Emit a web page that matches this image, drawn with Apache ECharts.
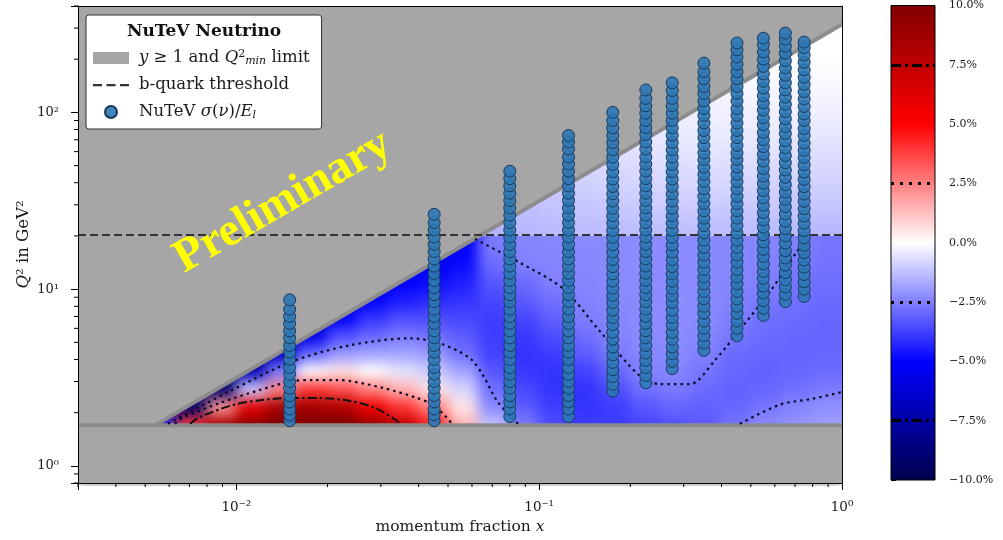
<!DOCTYPE html>
<html><head><meta charset="utf-8">
<script src="https://cdn.jsdelivr.net/npm/echarts@6/dist/echarts.min.js"></script>
<style>
html,body{margin:0;padding:0;background:#fff;}
#stage{position:relative;width:1003px;height:540px;overflow:hidden;background:#fff;}
.clip{position:absolute;overflow:hidden;}
.blurred{position:absolute;width:1003px;height:540px;filter:blur(7px);}
#heatClipHigh{left:78px;top:6px;width:764px;height:230px;}
#heatHigh{left:-78px;top:-6px;}
#heatClipLow{left:78px;top:236px;width:764px;height:250px;}
#heatLow{left:-78px;top:-236px;}
#main{position:absolute;left:0;top:0;width:1003px;height:540px;}
</style></head><body>
<div id="stage">
  <div id="heatClipHigh" class="clip"><div id="heatHigh" class="blurred"></div></div>
  <div id="heatClipLow" class="clip"><div id="heatLow" class="blurred"></div></div>
  <div id="main"></div>
</div>
<script>
// ---------------- data ----------------
const X_AXIS_MIN = 0.003, X_AXIS_MAX = 1;
const Q2_AXIS_MIN = 0.8, Q2_AXIS_MAX = 400;
const CBAR_MIN = -10, CBAR_MAX = 10, CBAR_STEP = 2.5;

// grey "y >= 1 and Q2_min" excluded region (polygon) and its boundary lines
const limitRegionX  = [0.003, 1, 1, 0.0054, 1, 1, 0.003];
const limitRegionQ2 = [0.8, 0.8, 1.7, 1.7, 315, 400, 400];
const q2MinLineX  = [0.003, 1];
const q2MinLineQ2 = [1.7, 1.7];
const yLimitLineX  = [0.0054, 1];
const yLimitLineQ2 = [1.7, 315];

// b-quark threshold
const bQuarkX  = [0.003, 1];
const bQuarkQ2 = [20.25, 20.25];

// NuTeV data points: x bins and Q2 values per bin
const nutevX = [0.015, 0.045, 0.08, 0.125, 0.175, 0.225, 0.275, 0.35, 0.45, 0.55, 0.65, 0.75];
const nutevQ2 = [
  [1.8,1.95,2.1,2.3,2.5,2.75,3.0,3.3,3.6,4.0,4.4,4.8,5.3,5.8,6.4,7.0,7.7,8.7],
  [1.8,1.95,2.1,2.3,2.5,2.75,3.0,3.3,3.6,4.0,4.4,4.8,5.3,5.8,6.4,7.0,7.7,8.5,9.3,10.2,11.2,12.3,13.5,14.8,16.3,17.9,19.7,21.6,23.8,26.5],
  [1.9,2.1,2.3,2.5,2.75,3.0,3.3,3.6,4.0,4.4,4.8,5.3,5.8,6.4,7.0,7.7,8.5,9.3,10.2,11.2,12.3,13.5,14.8,16.3,17.9,19.7,21.6,23.8,26.2,28.8,31.7,34.9,38.4,42.2,46.5],
  [1.9,2.1,2.3,2.5,2.75,3.0,3.3,3.6,4.0,4.4,4.8,5.3,5.8,6.4,7.0,7.7,8.5,9.3,10.2,11.2,12.3,13.5,14.8,16.3,17.9,19.7,21.6,23.8,26.2,28.8,31.7,34.9,38.4,42.2,46.5,51,56,62,68,74],
  [2.65,2.9,3.2,3.5,3.85,4.25,4.7,5.2,5.7,6.3,6.9,7.6,8.4,9.2,10.1,11.1,12.2,13.4,14.7,16.2,17.8,19.6,21.5,23.7,26.0,28.6,31.5,34.6,38.1,41.9,46.1,50.7,55.8,61.4,67.5,74.3,81.7,89.9,100],
  [2.95,3.25,3.6,3.95,4.35,4.8,5.3,5.8,6.4,7.0,7.7,8.5,9.3,10.2,11.2,12.3,13.5,14.8,16.3,17.9,19.7,21.6,23.8,26.2,28.8,31.7,34.9,38.4,42.2,46.5,51,56,62,68,75,82,90,99,109,120,134],
  [3.55,3.9,4.3,4.7,5.2,5.7,6.3,6.9,7.6,8.4,9.2,10.1,11.1,12.2,13.4,14.7,16.2,17.8,19.6,21.5,23.7,26.0,28.6,31.5,34.6,38.1,41.9,46.1,50.7,55.8,61.4,67.5,74.3,81.7,89.9,99,109,120,133,147],
  [4.5,4.95,5.45,6.0,6.6,7.3,8.0,8.8,9.7,10.7,11.7,12.9,14.2,15.6,17.2,18.9,20.8,22.9,25.2,27.7,30.5,33.5,36.9,40.6,44.6,49,54,59,65,72,79,87,96,105,116,128,140,155,170,190],
  [5.45,6.0,6.6,7.3,8.0,8.8,9.7,10.7,11.7,12.9,14.2,15.6,17.2,18.9,20.8,22.9,25.2,27.7,30.5,33.5,36.9,40.6,44.6,49,54,59,65,72,79,87,96,105,116,128,140,155,170,187,206,226,247],
  [7.1,7.8,8.6,9.5,10.4,11.5,12.6,13.9,15.3,16.8,18.5,20.3,22.4,24.6,27.1,29.8,32.8,36.1,39.7,43.6,48,53,58,64,70,77,85,93,103,113,124,137,150,165,182,200,220,242,263],
  [8.5,9.35,10.3,11.3,12.4,13.7,15.0,16.5,18.2,20.0,22.0,24.2,26.6,29.3,32.2,35.4,39.0,42.9,47.2,51.9,57,63,69,76,83,92,101,111,122,134,147,162,178,196,216,237,260,281],
  [9.1,10.0,11.0,12.1,13.3,14.6,16.1,17.7,19.5,21.4,23.6,25.9,28.5,31.4,34.5,38.0,41.8,45.9,50.5,55.6,61,67,74,81,90,98,108,119,131,144,158,174,192,211,232,250]
];

// relative difference field (%) on a log grid: column centres (log10 x), row centres (log10 Q2)
const heatLogX  = [-2.25,-2.15,-2.05,-1.95,-1.85,-1.75,-1.65,-1.55,-1.45,-1.35,-1.25,-1.15,-1.05,-0.95,-0.85,-0.75,-0.65,-0.55,-0.45,-0.35,-0.25,-0.15,-0.05];
const heatLogQ2 = [0.25,0.35,0.45,0.55,0.65,0.75,0.85,0.95,1.05,1.15,1.25,1.35,1.45,1.55,1.65,1.75,1.85,1.95,2.05,2.15,2.25,2.35,2.45,2.55];
const THRESHOLD_ROW = 11;   // first row above the b-quark threshold
// one list per column, from the lowest Q2 row upward
const heatColumns = [
  [-4, -9],
  [4, -9, -10],
  [8.5, 2, -9, -10],
  [9.5, 6, -1, -7, -9],
  [10, 8.5, 2.5, -2.5, -6.5, -8],
  [10, 8.5, 4, 0, -3, -5.5, -7],
  [10, 8, 3.5, 0.5, -2, -3.5, -5, -6],
  [9, 5.5, 2.5, 0, -1.8, -3, -4, -5, -6],
  [7.5, 4, 1.5, -0.5, -1.8, -2.6, -3.5, -4.5, -5, -5.5],
  [4.5, 2.5, 0.5, -1, -2, -2.8, -3.5, -4.2, -4.8, -5.3, -5.8],
  [1.5, 0.5, -0.8, -1.8, -2.8, -3.2, -3.6, -4, -4.4, -4.8, -5.2, -1.6],
  [-1.2, -2.3, -2.8, -3.3, -3.7, -3.8, -3.8, -3.6, -3.3, -2.9, -2.6, -1.5, -1.4],
  [-2.6, -3.2, -3.6, -3.9, -4, -3.9, -3.6, -3.2, -2.9, -2.5, -2.4, -1.4, -1.3, -1.2],
  [-3.5, -3.8, -4, -4, -3.8, -3.5, -3.1, -2.8, -2.5, -2.4, -2.35, -1.35, -1.2, -1.05, -0.95],
  [-3.8, -4, -4, -3.7, -3.2, -2.8, -2.55, -2.45, -2.4, -2.35, -2.3, -1.3, -1.15, -1.0, -0.85, -0.75],
  [-3.8, -3.8, -3.5, -3.0, -2.6, -2.45, -2.4, -2.35, -2.3, -2.3, -2.3, -1.3, -1.1, -0.95, -0.8, -0.65, -0.55],
  [-3.6, -3.3, -2.8, -2.45, -2.35, -2.3, -2.25, -2.25, -2.25, -2.25, -2.25, -1.25, -1.1, -0.9, -0.75, -0.6, -0.5, -0.4],
  [-3.4, -3.0, -2.6, -2.4, -2.3, -2.25, -2.25, -2.25, -2.25, -2.25, -2.25, -1.25, -1.05, -0.9, -0.75, -0.6, -0.45, -0.35, -0.3],
  [-3.2, -3.1, -2.9, -2.7, -2.5, -2.35, -2.3, -2.3, -2.3, -2.3, -2.3, -1.25, -1.05, -0.9, -0.7, -0.55, -0.45, -0.35, -0.25, -0.2],
  [-2.7, -3.0, -3.1, -3.0, -2.9, -2.7, -2.55, -2.45, -2.4, -2.35, -2.35, -1.3, -1.1, -0.9, -0.75, -0.6, -0.45, -0.35, -0.25, -0.15, -0.1],
  [-2.3, -2.7, -3.0, -3.1, -3.0, -2.9, -2.8, -2.65, -2.5, -2.45, -2.4, -1.3, -1.1, -0.95, -0.8, -0.6, -0.45, -0.35, -0.25, -0.15, -0.1, -0.05],
  [-2.1, -2.4, -2.8, -3.0, -3.0, -3.0, -2.9, -2.8, -2.7, -2.6, -2.5, -1.35, -1.15, -1.0, -0.8, -0.65, -0.5, -0.35, -0.25, -0.15, -0.1, 0, 0],
  [-1.9, -2.2, -2.6, -2.9, -3.0, -3.0, -3.0, -2.9, -2.85, -2.75, -2.7, -1.4, -1.2, -1.0, -0.85, -0.7, -0.55, -0.4, -0.25, -0.15, -0.05, 0, 0, 0]
];

// contour lines
const contourP75X  = [0.00703,0.00758,0.00975,0.01215,0.01537,0.0189,0.0237,0.0287,0.0339,0.0347];
const contourP75Q2 = [1.73,1.89,2.21,2.36,2.42,2.42,2.33,2.13,1.80,1.73];
const contourP25X  = [0.00627,0.00666,0.00883,0.01197,0.01537,0.0179,0.0215,0.0305,0.0395,0.0446,0.0496,0.0515];
const contourP25Q2 = [1.73,1.87,2.27,2.69,3.02,3.06,3.06,2.76,2.42,2.21,1.87,1.73];
const contourM25aX  = [0.00594,0.00953,0.01537,0.0237,0.0374,0.0470,0.0591,0.0652,0.0726,0.0813,0.0851];
const contourM25aQ2 = [1.73,2.65,3.91,4.81,5.27,4.94,4.06,3.26,2.33,1.87,1.73];
const contourM25bX  = [0.0614,0.0864,0.1199,0.1588,0.2153,0.2506,0.3148,0.3806,0.4782,0.5784,0.7100,0.772];
const contourM25bQ2 = [19.2,14.1,10.06,5.77,3.22,2.90,2.90,3.96,6.40,9.68,16.3,20.0];
const contourM25cX  = [0.460,0.624,0.802,1.0];
const contourM25cQ2 = [1.73,2.22,2.40,2.62];

const xMinorTicks = [0.003,0.004,0.005,0.006,0.007,0.008,0.009,0.02,0.03,0.04,0.05,0.06,0.07,0.08,0.09,0.2,0.3,0.4,0.5,0.6,0.7,0.8,0.9];
const yMinorTicks = [0.8,0.9,2,3,4,5,6,7,8,9,20,30,40,50,60,70,80,90,200,300,400];
const cbarDashDotLevels = [7.5, -7.5];
const cbarDottedLevels = [2.5, -2.5];

const seismicColors = ['#00004c', '#0000ff', '#ffffff', '#ff0000', '#800000'];
// ------------------------------------------------------------

const FONT = "'DejaVu Serif','Liberation Serif',serif";
const GRID = {left: 78, right: 161, top: 6, bottom: 54};
const TXT = '#1a1a1a';

function zipXY(xs, ys){ return xs.map((x, i) => [x, ys[i]]); }
const supMap = {'-':'\u207b','0':'\u2070','1':'\u00b9','2':'\u00b2','3':'\u00b3'};
function powLabel(v){
  const e = Math.round(Math.log10(v));
  if (Math.abs(v / Math.pow(10, e) - 1) > 1e-6) return '';
  return '10' + String(e).split('').map(c => supMap[c]).join('');
}

// ---------------- underlying colour field (two layers split at the b-quark threshold) ----------------
const heatData = [];
heatColumns.forEach((col, k) => col.forEach((v, j) => {
  heatData.push([Math.pow(10, heatLogX[k]), Math.pow(10, heatLogQ2[j]), v, k, j]);
}));
function makeHeatLayer(domId, jMin, jMax){
  const chart = echarts.init(document.getElementById(domId), null, {renderer: 'canvas'});
  chart.setOption({
    animation: false,
    grid: Object.assign({show: true, backgroundColor: '#a6a6a6', borderWidth: 0}, GRID),
    xAxis: {type: 'log', logBase: 10, min: X_AXIS_MIN, max: X_AXIS_MAX, show: false},
    yAxis: {type: 'log', logBase: 10, min: Q2_AXIS_MIN, max: Q2_AXIS_MAX, show: false},
    visualMap: {show: false, type: 'continuous', min: CBAR_MIN, max: CBAR_MAX, dimension: 2, seriesIndex: 0,
      inRange: {color: seismicColors}},
    series: [{
      type: 'custom', coordinateSystem: 'cartesian2d', clip: false, silent: true,
      encode: {x: 0, y: 1},
      data: heatData.filter(d => d[4] >= jMin && d[4] <= jMax),
      renderItem: function(params, api){
        const k = api.value(3), j = api.value(4);
        const lx = heatLogX[k], lq = heatLogQ2[j];
        const p0 = api.coord([Math.pow(10, lx - 0.05), Math.pow(10, lq + 0.05)]);
        const p1 = api.coord([Math.pow(10, lx + 0.05), Math.pow(10, lq - 0.05)]);
        let x0 = p0[0], y0 = p0[1], x1 = p1[0], y1 = p1[1];
        if (k === heatLogX.length - 1) x1 += 40;
        if (j === jMin) y1 += 30;
        if (j === jMax) y0 -= 30;
        return {type: 'rect', shape: {x: x0 - 0.5, y: y0 - 0.5, width: x1 - x0 + 1, height: y1 - y0 + 1},
          style: {fill: api.visual('color')}};
      }
    }]
  });
}
makeHeatLayer('heatLow', 0, THRESHOLD_ROW - 1);
makeHeatLayer('heatHigh', THRESHOLD_ROW, heatLogQ2.length - 1);

// ---------------- main chart ----------------
const main = echarts.init(document.getElementById('main'), null, {renderer: 'canvas'});
const nutevData = [];
nutevX.forEach((x, i) => nutevQ2[i].forEach(q => nutevData.push([x, q])));

const dotted = {type: [2.5, 4], width: 2.2, color: '#0a0a25', cap: 'butt'};
const dashDot = {type: [9, 3, 2.5, 3], width: 2, color: '#111', cap: 'butt'};
function contourSeries(xs, ys, style){
  return {type: 'line', name: 'contour', xAxisIndex: 0, yAxisIndex: 0, data: zipXY(xs, ys),
    symbol: 'none', smooth: 0.3, silent: true, z: 4, lineStyle: style};
}
const legendLabels = {
  limit: '{it|y} \u2265 1 and {it|Q}{sup|2}{sub|min} limit',
  bquark: 'b-quark threshold',
  nutev: 'NuTeV {it|\u03c3}({it|\u03bd})/{it|E}{sub|l}'
};
const dashIcon = 'path://M0,0h0.01v0.01h-0.01z M35.99,11.99h0.01v0.01h-0.01z M0,5h9v2.2h-9z M13.5,5h9v2.2h-9z M27,5h9v2.2h-9z';

main.setOption({
  animation: false,
  textStyle: {fontFamily: FONT},
  grid: [GRID, {left: 891, top: 5, width: 44, height: 475}],
  xAxis: [
    {gridIndex: 0, type: 'log', logBase: 10, min: X_AXIS_MIN, max: X_AXIS_MAX, z: 10,
      axisLine: {lineStyle: {color: '#000', width: 1}},
      axisTick: {length: 7, lineStyle: {color: '#000'}},
      axisLabel: {formatter: powLabel, fontFamily: FONT, fontSize: 13.5, color: TXT, margin: 17},
      splitLine: {show: false},
      name: 'momentum fraction {it|x}', nameLocation: 'middle', nameGap: 36, nameMoveOverlap: false,
      nameTextStyle: {fontFamily: FONT, fontSize: 15.5, color: TXT,
        rich: {it: {fontStyle: 'italic', fontFamily: FONT, fontSize: 15.5, color: TXT}}}},
    {gridIndex: 0, type: 'log', logBase: 10, min: X_AXIS_MIN, max: X_AXIS_MAX, position: 'top', z: 10,
      axisLine: {lineStyle: {color: '#000', width: 1}}, axisTick: {show: false}, axisLabel: {show: false}, splitLine: {show: false}},
    {gridIndex: 1, type: 'value', min: 0, max: 1, show: false}
  ],
  yAxis: [
    {gridIndex: 0, type: 'log', logBase: 10, min: Q2_AXIS_MIN, max: Q2_AXIS_MAX, z: 10,
      axisLine: {lineStyle: {color: '#000', width: 1}},
      axisTick: {length: 7, lineStyle: {color: '#000'}},
      axisLabel: {formatter: powLabel, fontFamily: FONT, fontSize: 13, color: TXT, margin: 19},
      splitLine: {show: false},
      name: '{it|Q}\u00b2 in GeV\u00b2', nameLocation: 'middle', nameGap: 46, nameMoveOverlap: false,
      nameTextStyle: {fontFamily: FONT, fontSize: 16.5, color: TXT,
        rich: {it: {fontStyle: 'italic', fontFamily: FONT, fontSize: 16.5, color: TXT}}}},
    {gridIndex: 0, type: 'log', logBase: 10, min: Q2_AXIS_MIN, max: Q2_AXIS_MAX, position: 'right', z: 10,
      axisLine: {lineStyle: {color: '#000', width: 1}}, axisTick: {show: false}, axisLabel: {show: false}, splitLine: {show: false}},
    {gridIndex: 1, type: 'value', min: CBAR_MIN, max: CBAR_MAX, interval: CBAR_STEP, position: 'right',
      axisLine: {show: false}, splitLine: {show: false},
      axisTick: {show: true, length: 5, lineStyle: {color: '#000'}},
      axisLabel: {fontFamily: FONT, fontSize: 11, color: TXT, margin: 14,
        formatter: v => (v < 0 ? '\u2212' : '') + Math.abs(v).toFixed(1) + '%'}}
  ],
  legend: {
    left: 86, top: 15, orient: 'vertical', z: 20,
    padding: [34, 12, 8, 7],
    backgroundColor: '#fff', borderColor: '#333', borderWidth: 1, borderRadius: 3,
    itemWidth: 36, itemHeight: 12, itemGap: 9,
    data: [{name: 'limit', icon: 'rect'}, {name: 'bquark', icon: dashIcon}, {name: 'nutev', icon: 'circle'}],
    formatter: name => legendLabels[name],
    selectedMode: false,
    textStyle: {fontFamily: FONT, fontSize: 16.5, color: TXT, lineHeight: 18, padding: [0, 0, 0, 5],
      rich: {
        it: {fontStyle: 'italic', fontFamily: FONT, fontSize: 16.5, color: TXT, lineHeight: 18},
        sup: {fontFamily: FONT, fontSize: 11, color: TXT, verticalAlign: 'top', lineHeight: 18},
        sub: {fontStyle: 'italic', fontFamily: FONT, fontSize: 11, color: TXT, verticalAlign: 'bottom', lineHeight: 14}
      }}
  },
  graphic: [
    {type: 'text', z: 100, x: 204, y: 32,
      style: {text: 'NuTeV Neutrino', fontFamily: FONT, fontWeight: 'bold', fontSize: 17, fill: '#111',
        align: 'center', verticalAlign: 'middle'}},
    {type: 'text', z: 60, x: 283, y: 202, rotation: 30 * Math.PI / 180,
      style: {text: 'Preliminary', fontFamily: "'Liberation Serif',serif", fontWeight: 'bold', fontSize: 47, fill: '#ffff00',
        align: 'center', verticalAlign: 'middle'}}
  ],
  series: [
    {type: 'custom', name: 'limit', xAxisIndex: 0, yAxisIndex: 0, silent: true, z: 2,
      itemStyle: {color: '#a6a6a6'},
      data: [[0, 0]],
      renderItem: function(params, api){
        const pts = limitRegionX.map((x, i) => api.coord([x, limitRegionQ2[i]]));
        return {type: 'polygon', shape: {points: pts}, style: {fill: '#a6a6a6'}};
      }},
    {type: 'line', name: 'limitEdge1', xAxisIndex: 0, yAxisIndex: 0, data: zipXY(q2MinLineX, q2MinLineQ2),
      symbol: 'none', silent: true, z: 3, lineStyle: {color: '#8c8c8c', width: 4}},
    {type: 'line', name: 'limitEdge2', xAxisIndex: 0, yAxisIndex: 0, data: zipXY(yLimitLineX, yLimitLineQ2),
      symbol: 'none', silent: true, z: 3, lineStyle: {color: '#8c8c8c', width: 4}},
    contourSeries(contourP75X, contourP75Q2, dashDot),
    contourSeries(contourP25X, contourP25Q2, dotted),
    contourSeries(contourM25aX, contourM25aQ2, dotted),
    contourSeries(contourM25bX, contourM25bQ2, dotted),
    contourSeries(contourM25cX, contourM25cQ2, dotted),
    {type: 'line', name: 'bquark', xAxisIndex: 0, yAxisIndex: 0, data: zipXY(bQuarkX, bQuarkQ2),
      symbol: 'none', silent: true, z: 5, itemStyle: {color: '#333'},
      lineStyle: {color: '#333', width: 2, type: [8, 4]}},
    {type: 'scatter', name: 'nutev', xAxisIndex: 0, yAxisIndex: 0, data: nutevData, z: 6,
      symbol: 'circle', symbolSize: 12, silent: true,
      itemStyle: {color: 'rgba(45,120,182,0.9)', borderColor: '#17395a', borderWidth: 1, opacity: 1}},
    {type: 'custom', name: 'xminor', xAxisIndex: 0, yAxisIndex: 0, clip: false, silent: true, z: 11,
      data: xMinorTicks.map(v => [v, Q2_AXIS_MIN]),
      renderItem: function(params, api){
        const c = api.coord([api.value(0), api.value(1)]);
        return {type: 'line', shape: {x1: c[0], y1: c[1], x2: c[0], y2: c[1] + 4}, style: {stroke: '#000', lineWidth: 1}};
      }},
    {type: 'custom', name: 'yminor', xAxisIndex: 0, yAxisIndex: 0, clip: false, silent: true, z: 11,
      data: yMinorTicks.map(v => [X_AXIS_MIN, v]),
      renderItem: function(params, api){
        const c = api.coord([api.value(0), api.value(1)]);
        return {type: 'line', shape: {x1: c[0], y1: c[1], x2: c[0] - 4, y2: c[1]}, style: {stroke: '#000', lineWidth: 1}};
      }},
    {type: 'custom', name: 'colorbar', xAxisIndex: 2, yAxisIndex: 2, silent: true, z: 2,
      encode: {x: [0, 2], y: [1, 3]},
      data: [[0, CBAR_MIN, 1, CBAR_MAX]],
      renderItem: function(params, api){
        const a = api.coord([api.value(0), api.value(3)]);
        const b = api.coord([api.value(2), api.value(1)]);
        const grad = new echarts.graphic.LinearGradient(0, 1, 0, 0,
          seismicColors.map((c, i) => ({offset: i / (seismicColors.length - 1), color: c})));
        return {type: 'rect', shape: {x: a[0], y: a[1], width: b[0] - a[0], height: b[1] - a[1]},
          style: {fill: grad, stroke: '#000', lineWidth: 1}};
      },
      markLine: {symbol: ['none', 'none'], silent: true, label: {show: false},
        data: cbarDashDotLevels.map(v => ({yAxis: v, lineStyle: {type: [10, 4, 3, 4], width: 3, color: '#000'}}))
          .concat(cbarDottedLevels.map(v => ({yAxis: v, lineStyle: {type: [3, 6], width: 3, color: '#000'}})))}
    }
  ]
});
</script>
</body></html>
